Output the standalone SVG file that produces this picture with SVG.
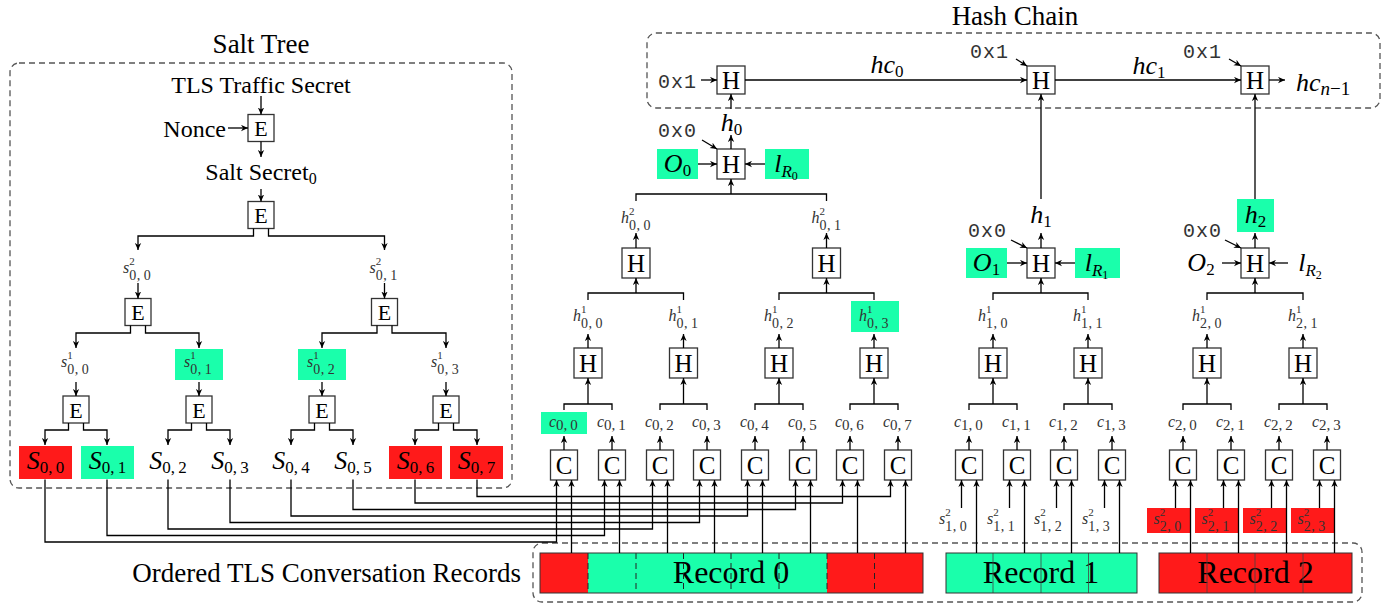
<svg xmlns="http://www.w3.org/2000/svg" width="1398" height="604" viewBox="0 0 1398 604">
<defs>
<marker id="ah" viewBox="0 0 10 10" refX="10" refY="5" markerWidth="7" markerHeight="7" markerUnits="userSpaceOnUse" orient="auto"><path d="M0,0.5 L10,5 L0,9.5 L3,5 Z" fill="#000"/></marker>
<style>
text { font-family: "Liberation Serif", "Times New Roman", serif; fill: #000; }
.ttl { font-size: 27px; text-anchor: middle; }
.lbl { font-size: 24px; }
.mid { text-anchor: middle; }
.bxE { font-size: 22px; text-anchor: middle; }
.bxH { font-size: 25px; text-anchor: middle; }
.tt { font-family: "Liberation Mono", "DejaVu Sans Mono", monospace; font-size: 20px; fill: #333; letter-spacing: 1px; }
.sl { font-size: 16px; font-style: italic; fill: #333; }
.sp { font-size: 11px; font-style: normal; }
.sb { font-size: 14px; font-style: normal; letter-spacing: 0.4px; }
.sc { font-size: 15px; font-style: normal; }
.ml { font-size: 26px; font-style: italic; }
.bs { font-size: 17px; font-style: normal; }
.bss { font-size: 12px; font-style: normal; }
.mi { font-style: italic; }
.rec { font-size: 32px; text-anchor: middle; }
.box { fill: #fff; stroke: #333; stroke-width: 1.3; }
.ln { fill: none; stroke: #000; stroke-width: 1.3; }
.ar { fill: none; stroke: #000; stroke-width: 1.3; marker-end: url(#ah); }
.dash { fill: none; stroke: #555; stroke-width: 1.3; stroke-dasharray: 6 4; }
.div0 { stroke: #222; stroke-width: 1; stroke-dasharray: 6 4; }
.div1 { stroke: #444; stroke-width: 0.8; }
.g { fill: #1AFFAB; }
.r { fill: #FF1A1A; }
.recbox { fill: none; stroke: #333; stroke-width: 1; }
</style>
</defs>
<rect width="1398" height="604" fill="#fff"/>

<!-- ================= Salt Tree ================= -->
<g id="salt-tree-frame">
<rect class="dash" x="10" y="63" width="502" height="425" rx="9"/>
<text class="ttl" x="261" y="53">Salt Tree</text>
</g>
<g id="tls-secret"><text class="lbl mid" x="261" y="93">TLS Traffic Secret</text></g>
<g id="nonce"><text class="lbl" x="226" y="137" text-anchor="end">Nonce</text></g>
<g id="e1"><rect class="box" x="248" y="114.5" width="26" height="27"/><text class="bxE" x="261" y="136">E</text></g>
<g id="salt-secret"><text class="lbl mid" x="261" y="180">Salt Secret<tspan style="font-size:16px" dy="4">0</tspan></text></g>
<g id="e2"><rect class="box" x="248" y="201.5" width="26" height="27"/><text class="bxE" x="261" y="223">E</text></g>

<g id="s2-00"><text class="sl" x="123" y="273">s<tspan class="sp" dy="-8.5">2</tspan><tspan class="sb" dx="-5.5" dy="15">0,&#8201;0</tspan></text></g>
<g id="s2-01"><text class="sl" x="369.5" y="273">s<tspan class="sp" dy="-8.5">2</tspan><tspan class="sb" dx="-5.5" dy="15">0,&#8201;1</tspan></text></g>
<g id="e3"><rect class="box" x="125" y="298.5" width="26" height="27"/><text class="bxE" x="138" y="320">E</text></g>
<g id="e4"><rect class="box" x="371.5" y="298.5" width="26" height="27"/><text class="bxE" x="384.5" y="320">E</text></g>

<g id="s1-00"><text class="sl" x="61" y="367">s<tspan class="sp" dy="-8.5">1</tspan><tspan class="sb" dx="-5.5" dy="15">0,&#8201;0</tspan></text></g>
<g id="s1-01"><rect class="g" x="175" y="349" width="48" height="31"/><text class="sl" x="184" y="367">s<tspan class="sp" dy="-8.5">1</tspan><tspan class="sb" dx="-5.5" dy="15">0,&#8201;1</tspan></text></g>
<g id="s1-02"><rect class="g" x="298" y="349" width="48" height="31"/><text class="sl" x="307" y="367">s<tspan class="sp" dy="-8.5">1</tspan><tspan class="sb" dx="-5.5" dy="15">0,&#8201;2</tspan></text></g>
<g id="s1-03"><text class="sl" x="431" y="367">s<tspan class="sp" dy="-8.5">1</tspan><tspan class="sb" dx="-5.5" dy="15">0,&#8201;3</tspan></text></g>

<g id="e5"><rect class="box" x="63" y="396" width="26" height="27"/><text class="bxE" x="76" y="417.5">E</text></g>
<g id="e6"><rect class="box" x="186" y="396" width="26" height="27"/><text class="bxE" x="199" y="417.5">E</text></g>
<g id="e7"><rect class="box" x="309" y="396" width="26" height="27"/><text class="bxE" x="322" y="417.5">E</text></g>
<g id="e8"><rect class="box" x="433" y="396" width="26" height="27"/><text class="bxE" x="446" y="417.5">E</text></g>

<g id="S00"><rect class="r" x="19" y="446" width="53" height="33"/><text class="ml mid" x="45.5" y="469">S<tspan class="bs" dy="4">0,&#8201;0</tspan></text></g>
<g id="S01"><rect class="g" x="81" y="446" width="53" height="33"/><text class="ml mid" x="107.5" y="469">S<tspan class="bs" dy="4">0,&#8201;1</tspan></text></g>
<g id="S02"><text class="ml mid" x="168" y="469">S<tspan class="bs" dy="4">0,&#8201;2</tspan></text></g>
<g id="S03"><text class="ml mid" x="230" y="469">S<tspan class="bs" dy="4">0,&#8201;3</tspan></text></g>
<g id="S04"><text class="ml mid" x="291" y="469">S<tspan class="bs" dy="4">0,&#8201;4</tspan></text></g>
<g id="S05"><text class="ml mid" x="353" y="469">S<tspan class="bs" dy="4">0,&#8201;5</tspan></text></g>
<g id="S06"><rect class="r" x="389" y="446" width="53" height="33"/><text class="ml mid" x="415.5" y="469">S<tspan class="bs" dy="4">0,&#8201;6</tspan></text></g>
<g id="S07"><rect class="r" x="450" y="446" width="53" height="33"/><text class="ml mid" x="476.5" y="469">S<tspan class="bs" dy="4">0,&#8201;7</tspan></text></g>

<!-- ================= Hash Chain ================= -->
<g id="hash-chain-frame">
<rect class="dash" x="647" y="33" width="733" height="75" rx="9"/>
<text class="ttl" x="1015" y="25">Hash Chain</text>
</g>
<g id="hc-in"><text class="tt" x="658" y="88">0x1</text></g>
<g id="hc-h0"><rect class="box" x="717" y="66" width="28" height="28"/><text class="bxH" x="731" y="88.5">H</text></g>
<g id="hc-h1"><rect class="box" x="1027" y="66" width="28" height="28"/><text class="bxH" x="1041" y="88.5">H</text></g>
<g id="hc-h2"><rect class="box" x="1241" y="66" width="28" height="28"/><text class="bxH" x="1255" y="88.5">H</text></g>
<g id="hc-c1"><text class="tt" x="970" y="58">0x1</text></g>
<g id="hc-c2"><text class="tt" x="1183" y="58">0x1</text></g>
<g id="hc0"><text class="ml mid" x="887" y="73">hc<tspan class="bs" dy="4">0</tspan></text></g>
<g id="hc1"><text class="ml mid" x="1149" y="74">hc<tspan class="bs" dy="4">1</tspan></text></g>
<g id="hcn"><text class="ml" x="1296" y="91">hc<tspan class="bs" style="font-size:19px" dy="4"><tspan class="mi">n</tspan>−1</tspan></text></g>

<!-- ================= Record 0 tree ================= -->
<g id="r0-top-h"><rect class="box" x="717" y="149" width="28" height="30"/><text class="bxH" x="731" y="172.5">H</text></g>
<g id="r0-h0"><text class="ml mid" x="731.5" y="131">h<tspan class="bs" dy="4">0</tspan></text></g>
<g id="r0-0x0"><text class="tt" x="658" y="137">0x0</text></g>
<g id="r0-O"><rect class="g" x="657" y="149" width="41" height="30"/><text class="ml mid" x="677.5" y="172">O<tspan class="bs" dy="4">0</tspan></text></g>
<g id="r0-l"><rect class="g" x="765" y="149" width="44" height="30"/><text class="ml mid" x="786" y="172">l<tspan class="bs mi" dy="5">R</tspan><tspan class="bss" dy="3">0</tspan></text></g>

<g id="r0-h2-00"><text class="sl" x="621" y="223">h<tspan class="sp" dy="-8.5">2</tspan><tspan class="sb" dx="-5.5" dy="15">0,&#8201;0</tspan></text></g>
<g id="r0-h2-01"><text class="sl" x="811.5" y="223">h<tspan class="sp" dy="-8.5">2</tspan><tspan class="sb" dx="-5.5" dy="15">0,&#8201;1</tspan></text></g>
<g id="r0-H2a"><rect class="box" x="622" y="248" width="28" height="30"/><text class="bxH" x="636" y="271.5">H</text></g>
<g id="r0-H2b"><rect class="box" x="812.5" y="248" width="28" height="30"/><text class="bxH" x="826.5" y="271.5">H</text></g>

<g id="r0-h1-00"><text class="sl" x="573" y="321">h<tspan class="sp" dy="-8.5">1</tspan><tspan class="sb" dx="-5.5" dy="15">0,&#8201;0</tspan></text></g>
<g id="r0-h1-01"><text class="sl" x="668.5" y="321">h<tspan class="sp" dy="-8.5">1</tspan><tspan class="sb" dx="-5.5" dy="15">0,&#8201;1</tspan></text></g>
<g id="r0-h1-02"><text class="sl" x="764" y="321">h<tspan class="sp" dy="-8.5">1</tspan><tspan class="sb" dx="-5.5" dy="15">0,&#8201;2</tspan></text></g>
<g id="r0-h1-03"><rect class="g" x="851" y="301" width="48" height="31"/><text class="sl" x="859" y="321">h<tspan class="sp" dy="-8.5">1</tspan><tspan class="sb" dx="-5.5" dy="15">0,&#8201;3</tspan></text></g>

<g id="r0-H1a"><rect class="box" x="574" y="348" width="28" height="30"/><text class="bxH" x="588" y="371.5">H</text></g>
<g id="r0-H1b"><rect class="box" x="669.5" y="348" width="28" height="30"/><text class="bxH" x="683.5" y="371.5">H</text></g>
<g id="r0-H1c"><rect class="box" x="765" y="348" width="28" height="30"/><text class="bxH" x="779" y="371.5">H</text></g>
<g id="r0-H1d"><rect class="box" x="860" y="348" width="28" height="30"/><text class="bxH" x="874" y="371.5">H</text></g>

<g id="r0-c0"><rect class="g" x="541" y="412" width="46" height="22"/><text class="sl" x="549" y="427">c<tspan class="sc" dy="3">0,&#8201;0</tspan></text></g>
<g id="r0-c1"><text class="sl" x="597" y="427">c<tspan class="sc" dy="3">0,&#8201;1</tspan></text></g>
<g id="r0-c2"><text class="sl" x="645" y="427">c<tspan class="sc" dy="3">0,&#8201;2</tspan></text></g>
<g id="r0-c3"><text class="sl" x="692" y="427">c<tspan class="sc" dy="3">0,&#8201;3</tspan></text></g>
<g id="r0-c4"><text class="sl" x="740" y="427">c<tspan class="sc" dy="3">0,&#8201;4</tspan></text></g>
<g id="r0-c5"><text class="sl" x="788" y="427">c<tspan class="sc" dy="3">0,&#8201;5</tspan></text></g>
<g id="r0-c6"><text class="sl" x="835" y="427">c<tspan class="sc" dy="3">0,&#8201;6</tspan></text></g>
<g id="r0-c7"><text class="sl" x="883" y="427">c<tspan class="sc" dy="3">0,&#8201;7</tspan></text></g>

<g id="r0-C0"><rect class="box" x="550.5" y="450" width="27" height="30"/><text class="bxH" x="564" y="473.5">C</text></g>
<g id="r0-C1"><rect class="box" x="598.5" y="450" width="27" height="30"/><text class="bxH" x="612" y="473.5">C</text></g>
<g id="r0-C2"><rect class="box" x="646.5" y="450" width="27" height="30"/><text class="bxH" x="660" y="473.5">C</text></g>
<g id="r0-C3"><rect class="box" x="693.5" y="450" width="27" height="30"/><text class="bxH" x="707" y="473.5">C</text></g>
<g id="r0-C4"><rect class="box" x="741.5" y="450" width="27" height="30"/><text class="bxH" x="755" y="473.5">C</text></g>
<g id="r0-C5"><rect class="box" x="789.5" y="450" width="27" height="30"/><text class="bxH" x="803" y="473.5">C</text></g>
<g id="r0-C6"><rect class="box" x="836.5" y="450" width="27" height="30"/><text class="bxH" x="850" y="473.5">C</text></g>
<g id="r0-C7"><rect class="box" x="884.5" y="450" width="27" height="30"/><text class="bxH" x="898" y="473.5">C</text></g>

<!-- ================= Record 1 tree ================= -->
<g id="r1-top-h"><rect class="box" x="1027" y="248" width="28" height="30"/><text class="bxH" x="1041" y="271.5">H</text></g>
<g id="r1-h1"><text class="ml mid" x="1041" y="223">h<tspan class="bs" dy="4">1</tspan></text></g>
<g id="r1-0x0"><text class="tt" x="968" y="237">0x0</text></g>
<g id="r1-O"><rect class="g" x="966" y="248" width="41" height="30"/><text class="ml mid" x="986.5" y="271">O<tspan class="bs" dy="4">1</tspan></text></g>
<g id="r1-l"><rect class="g" x="1075" y="248" width="45" height="30"/><text class="ml mid" x="1096.5" y="271">l<tspan class="bs mi" dy="5">R</tspan><tspan class="bss" dy="3">1</tspan></text></g>

<g id="r1-h1-10"><text class="sl" x="978" y="321">h<tspan class="sp" dy="-8.5">1</tspan><tspan class="sb" dx="-5.5" dy="15">1,&#8201;0</tspan></text></g>
<g id="r1-h1-11"><text class="sl" x="1073" y="321">h<tspan class="sp" dy="-8.5">1</tspan><tspan class="sb" dx="-5.5" dy="15">1,&#8201;1</tspan></text></g>
<g id="r1-H1a"><rect class="box" x="979" y="348" width="28" height="30"/><text class="bxH" x="993" y="371.5">H</text></g>
<g id="r1-H1b"><rect class="box" x="1074" y="348" width="28" height="30"/><text class="bxH" x="1088" y="371.5">H</text></g>

<g id="r1-c0"><text class="sl" x="954" y="427">c<tspan class="sc" dy="3">1,&#8201;0</tspan></text></g>
<g id="r1-c1"><text class="sl" x="1002" y="427">c<tspan class="sc" dy="3">1,&#8201;1</tspan></text></g>
<g id="r1-c2"><text class="sl" x="1049" y="427">c<tspan class="sc" dy="3">1,&#8201;2</tspan></text></g>
<g id="r1-c3"><text class="sl" x="1097" y="427">c<tspan class="sc" dy="3">1,&#8201;3</tspan></text></g>

<g id="r1-C0"><rect class="box" x="955.5" y="450" width="27" height="30"/><text class="bxH" x="969" y="473.5">C</text></g>
<g id="r1-C1"><rect class="box" x="1003.5" y="450" width="27" height="30"/><text class="bxH" x="1017" y="473.5">C</text></g>
<g id="r1-C2"><rect class="box" x="1050.5" y="450" width="27" height="30"/><text class="bxH" x="1064" y="473.5">C</text></g>
<g id="r1-C3"><rect class="box" x="1098.5" y="450" width="27" height="30"/><text class="bxH" x="1112" y="473.5">C</text></g>

<g id="r1-s0"><text class="sl" x="939" y="524">s<tspan class="sp" dy="-8.5">2</tspan><tspan class="sb" dx="-5.5" dy="15">1,&#8201;0</tspan></text></g>
<g id="r1-s1"><text class="sl" x="987" y="524">s<tspan class="sp" dy="-8.5">2</tspan><tspan class="sb" dx="-5.5" dy="15">1,&#8201;1</tspan></text></g>
<g id="r1-s2"><text class="sl" x="1034" y="524">s<tspan class="sp" dy="-8.5">2</tspan><tspan class="sb" dx="-5.5" dy="15">1,&#8201;2</tspan></text></g>
<g id="r1-s3"><text class="sl" x="1082" y="524">s<tspan class="sp" dy="-8.5">2</tspan><tspan class="sb" dx="-5.5" dy="15">1,&#8201;3</tspan></text></g>

<!-- ================= Record 2 tree ================= -->
<g id="r2-top-h"><rect class="box" x="1241" y="248" width="28" height="30"/><text class="bxH" x="1255" y="271.5">H</text></g>
<g id="r2-h2"><rect class="g" x="1237" y="199" width="37" height="33"/><text class="ml mid" x="1255.5" y="223">h<tspan class="bs" dy="4">2</tspan></text></g>
<g id="r2-0x0"><text class="tt" x="1183" y="237">0x0</text></g>
<g id="r2-O"><text class="ml mid" x="1201" y="271">O<tspan class="bs" dy="4">2</tspan></text></g>
<g id="r2-l"><text class="ml mid" x="1310" y="271">l<tspan class="bs mi" dy="5">R</tspan><tspan class="bss" dy="3">2</tspan></text></g>

<g id="r2-h1-20"><text class="sl" x="1192" y="321">h<tspan class="sp" dy="-8.5">1</tspan><tspan class="sb" dx="-5.5" dy="15">2,&#8201;0</tspan></text></g>
<g id="r2-h1-21"><text class="sl" x="1288" y="321">h<tspan class="sp" dy="-8.5">1</tspan><tspan class="sb" dx="-5.5" dy="15">2,&#8201;1</tspan></text></g>
<g id="r2-H1a"><rect class="box" x="1193" y="348" width="28" height="30"/><text class="bxH" x="1207" y="371.5">H</text></g>
<g id="r2-H1b"><rect class="box" x="1289" y="348" width="28" height="30"/><text class="bxH" x="1303" y="371.5">H</text></g>

<g id="r2-c0"><text class="sl" x="1168" y="427">c<tspan class="sc" dy="3">2,&#8201;0</tspan></text></g>
<g id="r2-c1"><text class="sl" x="1216" y="427">c<tspan class="sc" dy="3">2,&#8201;1</tspan></text></g>
<g id="r2-c2"><text class="sl" x="1264" y="427">c<tspan class="sc" dy="3">2,&#8201;2</tspan></text></g>
<g id="r2-c3"><text class="sl" x="1312" y="427">c<tspan class="sc" dy="3">2,&#8201;3</tspan></text></g>

<g id="r2-C0"><rect class="box" x="1169.5" y="450" width="27" height="30"/><text class="bxH" x="1183" y="473.5">C</text></g>
<g id="r2-C1"><rect class="box" x="1217.5" y="450" width="27" height="30"/><text class="bxH" x="1231" y="473.5">C</text></g>
<g id="r2-C2"><rect class="box" x="1265.5" y="450" width="27" height="30"/><text class="bxH" x="1279" y="473.5">C</text></g>
<g id="r2-C3"><rect class="box" x="1313.5" y="450" width="27" height="30"/><text class="bxH" x="1327" y="473.5">C</text></g>

<g id="r2-s0"><rect class="r" x="1147" y="508" width="43" height="25"/><text class="sl" x="1153.5" y="524">s<tspan class="sp" dy="-8.5">2</tspan><tspan class="sb" dx="-5.5" dy="15">2,&#8201;0</tspan></text></g>
<g id="r2-s1"><rect class="r" x="1195" y="508" width="43" height="25"/><text class="sl" x="1201.5" y="524">s<tspan class="sp" dy="-8.5">2</tspan><tspan class="sb" dx="-5.5" dy="15">2,&#8201;1</tspan></text></g>
<g id="r2-s2"><rect class="r" x="1243" y="508" width="43" height="25"/><text class="sl" x="1249.5" y="524">s<tspan class="sp" dy="-8.5">2</tspan><tspan class="sb" dx="-5.5" dy="15">2,&#8201;2</tspan></text></g>
<g id="r2-s3"><rect class="r" x="1291" y="508" width="43" height="25"/><text class="sl" x="1297.5" y="524">s<tspan class="sp" dy="-8.5">2</tspan><tspan class="sb" dx="-5.5" dy="15">2,&#8201;3</tspan></text></g>

<!-- ================= Records ================= -->
<g id="records-frame">
<rect class="dash" x="533" y="543" width="829" height="59" rx="9"/>
<text style="font-size:27px" x="521" y="582" text-anchor="end">Ordered TLS Conversation Records</text>
</g>
<g id="record0">
<rect class="r" x="540" y="553" width="48" height="40"/>
<rect class="g" x="588" y="553" width="239" height="40"/>
<rect class="r" x="827" y="553" width="96" height="40"/>
<text class="rec" x="731" y="583">Record 0</text>
<path class="div0" d="M588,553V593M636,553V593M683.5,553V593M731,553V593M779,553V593M827,553V593M874.5,553V593"/>
<rect class="recbox" x="540" y="553" width="383" height="40"/>
</g>
<g id="record1">
<rect class="g" x="946" y="553" width="191" height="40"/>
<text class="rec" x="1041" y="583">Record 1</text>
<path class="div1" d="M993,553V593M1041,553V593M1088.5,553V593"/>
<rect class="recbox" x="946" y="553" width="191" height="40"/>
</g>
<g id="record2">
<rect class="r" x="1159" y="553" width="193" height="40"/>
<text class="rec" x="1255.5" y="583">Record 2</text>
<path class="div1" d="M1207,553V593M1255,553V593M1303,553V593"/>
<rect class="recbox" x="1159" y="553" width="193" height="40"/>
</g>

<!-- ================= Connectors ================= -->
<g id="connectors">
<path class="ar" d="M261,96V114.5"/>
<path class="ar" d="M228,128H248"/>
<path class="ar" d="M261,141.5V157"/>
<path class="ar" d="M261,189V201.5"/>
<path class="ar" d="M253.5,228.5V236H138V250"/>
<path class="ar" d="M268.5,228.5V236H384.5V250"/>
<path class="ar" d="M138,283V298.5"/>
<path class="ar" d="M384.5,283V298.5"/>
<path class="ar" d="M130.5,325.5V333H76V348"/>
<path class="ar" d="M145.5,325.5V333H199V348"/>
<path class="ar" d="M377,325.5V333H322V348"/>
<path class="ar" d="M392,325.5V333H446V348"/>
<path class="ar" d="M76,382V396"/>
<path class="ar" d="M199,382V396"/>
<path class="ar" d="M322,382V396"/>
<path class="ar" d="M446,382V396"/>
<path class="ar" d="M68.5,423V430H45V445"/>
<path class="ar" d="M83.5,423V430H107V445"/>
<path class="ar" d="M191.5,423V430H168V445"/>
<path class="ar" d="M206.5,423V430H230V445"/>
<path class="ar" d="M314.5,423V430H291V445"/>
<path class="ar" d="M329.5,423V430H353V445"/>
<path class="ar" d="M438.5,423V430H415V445"/>
<path class="ar" d="M453.5,423V430H477V445"/>
<path class="ar" d="M45,479.5V542H556.5V480"/>
<path class="ar" d="M107,479.5V535.5H604.5V480"/>
<path class="ar" d="M168,479.5V529H652.5V480"/>
<path class="ar" d="M230,479.5V522.5H699.5V480"/>
<path class="ar" d="M291,479.5V516H747.5V480"/>
<path class="ar" d="M353,479.5V509.5H795.5V480"/>
<path class="ar" d="M415,479.5V503H842.5V480"/>
<path class="ar" d="M477,479.5V496.5H890.5V480"/>
<path class="ar" d="M571.5,553V480"/>
<path class="ar" d="M619.5,553V480"/>
<path class="ar" d="M667.5,553V480"/>
<path class="ar" d="M714.5,553V480"/>
<path class="ar" d="M762.5,553V480"/>
<path class="ar" d="M810.5,553V480"/>
<path class="ar" d="M857.5,553V480"/>
<path class="ar" d="M905.5,553V480"/>
<path class="ar" d="M564,450V436"/>
<path class="ar" d="M612,450V436"/>
<path class="ar" d="M660,450V436"/>
<path class="ar" d="M707,450V436"/>
<path class="ar" d="M755,450V436"/>
<path class="ar" d="M803,450V436"/>
<path class="ar" d="M850,450V436"/>
<path class="ar" d="M898,450V436"/>
<path class="ln" d="M564,410V404H612V410"/>
<path class="ln" d="M660,410V404H707V410"/>
<path class="ln" d="M755,410V404H803V410"/>
<path class="ln" d="M850,410V404H898V410"/>
<path class="ar" d="M588,404V378"/>
<path class="ar" d="M683.5,404V378"/>
<path class="ar" d="M779,404V378"/>
<path class="ar" d="M874,404V378"/>
<path class="ar" d="M588,348V334"/>
<path class="ar" d="M683.5,348V334"/>
<path class="ar" d="M779,348V334"/>
<path class="ar" d="M874,348V334"/>
<path class="ln" d="M588,300V293H683.5V300"/>
<path class="ln" d="M779,300V293H874V300"/>
<path class="ar" d="M636,293V278"/>
<path class="ar" d="M826.5,293V278"/>
<path class="ar" d="M636,248V233"/>
<path class="ar" d="M826.5,248V233"/>
<path class="ln" d="M636,201V194H826.5V201"/>
<path class="ar" d="M731,194V179"/>
<path class="ar" d="M698,164H717"/>
<path class="ar" d="M765,164H745"/>
<path class="ar" d="M702,140L717,149"/>
<path class="ar" d="M731,149V135"/>
<path class="ar" d="M731,109V94"/>
<path class="ar" d="M701,80H717"/>
<path class="ar" d="M745,80H1027"/>
<path class="ar" d="M1016,59L1027,66"/>
<path class="ar" d="M1055,80H1241"/>
<path class="ar" d="M1229,59L1241,66"/>
<path class="ar" d="M1269,80H1285"/>
<path class="ar" d="M1041,199V94"/>
<path class="ar" d="M1255,199V94"/>
<path class="ar" d="M961.5,508V480"/>
<path class="ar" d="M1009.5,508V480"/>
<path class="ar" d="M1056.5,508V480"/>
<path class="ar" d="M1104.5,508V480"/>
<path class="ar" d="M976.5,553V480"/>
<path class="ar" d="M1024.5,553V480"/>
<path class="ar" d="M1071.5,553V480"/>
<path class="ar" d="M1119.5,553V480"/>
<path class="ar" d="M969,450V436"/>
<path class="ar" d="M1017,450V436"/>
<path class="ar" d="M1064,450V436"/>
<path class="ar" d="M1112,450V436"/>
<path class="ln" d="M969,410V404H1017V410"/>
<path class="ln" d="M1064,410V404H1112V410"/>
<path class="ar" d="M993,404V378"/>
<path class="ar" d="M1088,404V378"/>
<path class="ar" d="M993,348V334"/>
<path class="ar" d="M1088,348V334"/>
<path class="ln" d="M993,300V293H1088V300"/>
<path class="ar" d="M1041,293V278"/>
<path class="ar" d="M1007,263H1027"/>
<path class="ar" d="M1075,263H1055"/>
<path class="ar" d="M1011,240L1027,248"/>
<path class="ar" d="M1041,248V233"/>
<path class="ar" d="M1175.5,508V480"/>
<path class="ar" d="M1223.5,508V480"/>
<path class="ar" d="M1271.5,508V480"/>
<path class="ar" d="M1319.5,508V480"/>
<path class="ar" d="M1190.5,553V480"/>
<path class="ar" d="M1238.5,553V480"/>
<path class="ar" d="M1286.5,553V480"/>
<path class="ar" d="M1334.5,553V480"/>
<path class="ar" d="M1183,450V436"/>
<path class="ar" d="M1231,450V436"/>
<path class="ar" d="M1279,450V436"/>
<path class="ar" d="M1327,450V436"/>
<path class="ln" d="M1183,410V404H1231V410"/>
<path class="ln" d="M1279,410V404H1327V410"/>
<path class="ar" d="M1207,404V378"/>
<path class="ar" d="M1303,404V378"/>
<path class="ar" d="M1207,348V334"/>
<path class="ar" d="M1303,348V334"/>
<path class="ln" d="M1207,300V293H1303V300"/>
<path class="ar" d="M1255,293V278"/>
<path class="ar" d="M1222,263H1241"/>
<path class="ar" d="M1288,263H1269"/>
<path class="ar" d="M1225,240L1241,248"/>
<path class="ar" d="M1255,248V233"/>
</g>
</svg>
